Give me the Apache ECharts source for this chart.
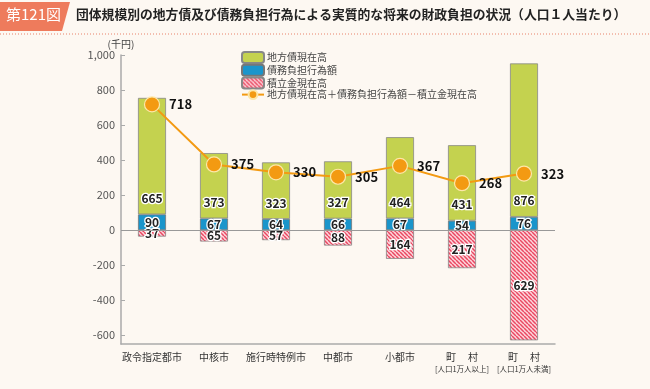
<!DOCTYPE html>
<html><head><meta charset="utf-8">
<script src="https://cdn.jsdelivr.net/npm/echarts@6/dist/echarts.min.js"></script>
<style>html,body{margin:0;padding:0;background:#fdf8f2;}#c{width:650px;height:389px;}</style>
</head><body><div id="c"></div>
<script>
const categories = ['政令指定都市','中核市','施行時特例市','中都市','小都市','町　 村\n{s|[人口1万人以上]}','町　 村\n{s|[人口1万人未満]}'];
const localDebt = [665, 373, 323, 327, 464, 431, 876];
const debtBurden = [90, 67, 64, 66, 67, 54, 76];
const reserves = [37, 65, 57, 88, 164, 217, 629];
const netBurden = [718, 375, 330, 305, 367, 268, 323];
const yTicks = [-600, -400, -200, 0, 200, 400, 600, 800, 1000];
const seriesNames = ['地方債現在高','債務負担行為額','積立金現在高','地方債現在高＋債務負担行為額－積立金現在高'];

const pc = document.createElement('canvas'); pc.width = 4; pc.height = 4;
const g = pc.getContext('2d');
g.fillStyle = '#fcd6dc'; g.fillRect(0,0,4,4);
g.strokeStyle = '#ea4862'; g.lineWidth = 1.5;
g.beginPath();
for (let k=-4;k<=8;k+=4){ g.moveTo(k,0); g.lineTo(k+4,4); }
g.stroke();

const chart = echarts.init(document.getElementById('c'));
const lblStyle = {color:'#222', fontSize:12, fontWeight:'bold', textBorderColor:'#fff', textBorderWidth:2.5, fontFamily:'Noto Sans CJK JP'};
chart.setOption({
  backgroundColor:'#fdf8f2',
  textStyle:{fontFamily:'Noto Sans CJK JP'},
  animation:false,
  grid:{left:121, right:95, top:55, bottom:45},
  legend:{
    orient:'vertical', left:236, top:46, padding:[5,5,5,5], itemWidth:22, itemHeight:11, itemGap:-0.3,
    textStyle:{fontSize:10, color:'#444', lineHeight:11, height:11, padding:[0,0,0,-2]},
    data:seriesNames
  },
  xAxis:{
    type:'category', data:categories,
    axisLine:{onZero:false, lineStyle:{color:'#aaa', width:1.5}},
    axisTick:{show:false},
    axisLabel:{color:'#333', fontSize:10, margin:7, lineHeight:12, interval:0,
      rich:{s:{fontSize:7.5, color:'#333', lineHeight:12}}}
  },
  yAxis:{
    type:'value', min:-650, max:1000,
    name:'(千円)', nameLocation:'end', nameGap:4,
    nameTextStyle:{color:'#444', fontSize:10, align:'center', padding:[0,0,0,0]},
    axisLine:{show:true, lineStyle:{color:'#aaa', width:1.5}},
    axisTick:{show:true, inside:true, length:4, lineStyle:{color:'#aaa'}, customValues:yTicks},
    axisLabel:{color:'#555', fontSize:11, margin:6, customValues:yTicks,
      formatter:v=>v===1000?'1,000':String(v)},
    splitLine:{show:false}
  },
  series:[
    {name:seriesNames[1], type:'bar', stack:'s', data:debtBurden, barWidth:28,
      itemStyle:{color:'#1a95cb', borderColor:'#777', borderWidth:0.8},
      label:{show:true, position:'inside', ...lblStyle}},
    {name:seriesNames[0], type:'bar', stack:'s', data:localDebt, barWidth:28,
      itemStyle:{color:'#c4d24f', borderColor:'#888', borderWidth:0.8},
      label:{show:true, position:'insideBottom', distance:10, ...lblStyle}},
    {name:seriesNames[2], type:'bar', stack:'s', data:reserves.map(v=>-v), barWidth:28,
      itemStyle:{color:{image:pc, repeat:'repeat'}, borderColor:'#888', borderWidth:0.8},
      label:{show:true, position:'inside', formatter:p=>String(-p.value), ...lblStyle},
      markLine:{silent:true, symbol:'none', label:{show:false},
        lineStyle:{color:'#999', type:'solid', width:1}, data:[{yAxis:0}]}},
    {name:seriesNames[3], type:'line', data:netBurden, z:5,
      symbol:'circle', symbolSize:15,
      lineStyle:{color:'#f39a12', width:2},
      itemStyle:{color:'#f39a12', borderColor:'#fde7a8', borderWidth:1.2},
      label:{show:true, position:'right', distance:9, color:'#111', fontSize:13, fontWeight:'bold', fontFamily:'Noto Sans CJK JP'}}
  ],
  graphic:[
    {type:'polygon', shape:{points:[[0,2],[70,2],[62,31],[0,31]]}, style:{fill:'#ee7b5c'}},
    {type:'text', left:6, top:7, style:{text:'第121図', fill:'#fff', fontSize:15, fontFamily:'Noto Sans CJK JP'}},
    {type:'text', left:76, top:8, style:{text:'団体規模別の地方債及び債務負担行為による実質的な将来の財政負担の状況（人口１人当たり）', fill:'#222', fontSize:12.8, fontWeight:'bold', fontFamily:'Noto Sans CJK JP'}},
    {type:'line', shape:{x1:0,y1:34,x2:650,y2:34}, style:{stroke:'#e8826a', lineWidth:1, lineDash:[1,2]}}
  ]
});
</script></body></html>
